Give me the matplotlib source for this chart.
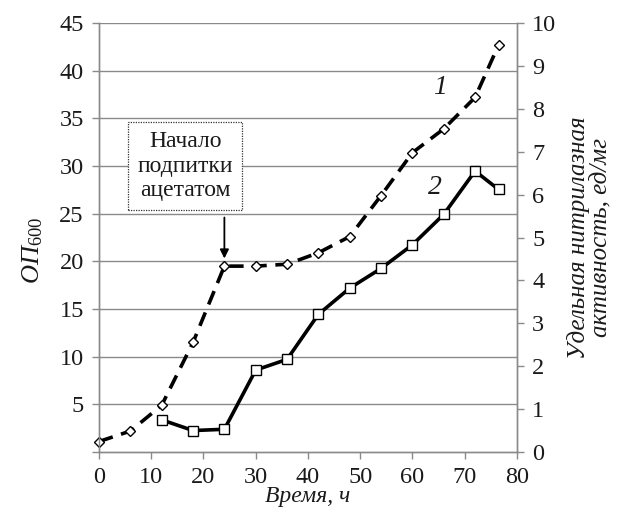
import matplotlib.pyplot as plt

plt.rcParams['font.family'] = ['Liberation Serif', 'DejaVu Serif']
plt.rcParams['mathtext.fontset'] = 'custom'
plt.rcParams['mathtext.rm'] = 'Liberation Serif'
plt.rcParams['mathtext.it'] = 'Liberation Serif:italic'

# optical density (left axis), curve 1
time_od = [0, 6, 12, 18, 24, 30, 36, 42, 48, 54, 60, 66, 72, 76.5]
od600 = [1.1, 2.2, 4.9, 11.5, 19.5, 19.5, 19.7, 20.9, 22.6, 26.9, 31.4, 33.9, 37.2, 42.7]

# specific nitrilase activity (right axis), curve 2
time_act = [12, 18, 24, 30, 36, 42, 48, 54, 60, 66, 72, 76.5]
activity = [0.75, 0.50, 0.53, 1.91, 2.16, 3.21, 3.82, 4.28, 4.83, 5.54, 6.55, 6.12]

x_ticks = [0, 10, 20, 30, 40, 50, 60, 70, 80]
left_ticks = [5, 10, 15, 20, 25, 30, 35, 40, 45]
right_ticks = list(range(0, 11))

grey = '#8a8a8a'
ink = '#1a1a1a'

fig = plt.figure(figsize=(6.19, 5.24), dpi=100)
ax = fig.add_axes([0.16, 0.1374, 0.675, 0.8186])
ax2 = ax.twinx()

ax.set_xlim(0, 80)
ax.set_ylim(0, 45)
ax2.set_ylim(0, 10)

ax.set_yticks([0] + left_ticks)
ax.set_yticklabels([''] + [str(t) for t in left_ticks])
ax.set_xticks(x_ticks)
ax2.set_yticks(right_ticks)

for t in left_ticks:
    ax.axhline(t, color=grey, lw=1.0, zorder=0)

for a in (ax, ax2):
    a.spines['top'].set_visible(False)
    for side in ('left', 'right', 'bottom'):
        a.spines[side].set_color(grey)
        a.spines[side].set_linewidth(1.0)
    a.tick_params(colors=grey, labelcolor=ink, labelsize=17.5, length=5, width=1.0)
ax.tick_params(axis='x', pad=6)
ax.tick_params(axis='y', pad=6)
ax2.tick_params(axis='y', pad=6)

ax.plot(time_od, od600, color='black', lw=2.6, dashes=(4, 2.4),
        marker='D', markersize=5.5, markerfacecolor='white',
        markeredgecolor='black', markeredgewidth=1.0, zorder=3, clip_on=False)
ax2.plot(time_act, activity, color='black', lw=2.6,
         marker='s', markersize=7, markerfacecolor='white',
         markeredgecolor='black', markeredgewidth=1.0, zorder=3)

ax.text(65.3, 38.2, '1', fontsize=20, style='italic', color=ink,
        ha='center', va='center')
ax.text(64.3, 27.7, '2', fontsize=20, style='italic', color=ink,
        ha='center', va='center')

ax.text(16.5, 30, 'Начало\nподпитки\nацетатом', fontsize=17, color=ink,
        ha='center', va='center', linespacing=1.2,
        bbox=dict(boxstyle='square,pad=0.4', facecolor='white',
                  edgecolor='#333333', linestyle=(0, (1, 1)), linewidth=0.9))
ax.annotate('', xy=(24, 20.3), xytext=(24, 24.6),
            arrowprops=dict(arrowstyle='-|>', color='black', lw=1.3,
                            mutation_scale=13, shrinkA=0, shrinkB=0))

ax.set_xlabel('Время, ч', fontsize=17, style='italic', color=ink)
ax.set_ylabel(r'$\mathit{ОП}_{\mathit{600}}$', fontsize=19, color=ink)
ax2.set_ylabel('Удельная нитрилазная\nактивность, ед/мг', fontsize=18,
               style='italic', color=ink, linespacing=0.95)

# label positions in axes fractions
ax.xaxis.set_label_coords(0.5, -0.08)
ax.yaxis.set_label_coords(-0.13, 0.47)
ax2.yaxis.set_label_coords(1.12, 0.5)

fig.savefig('out.png', dpi=100)
